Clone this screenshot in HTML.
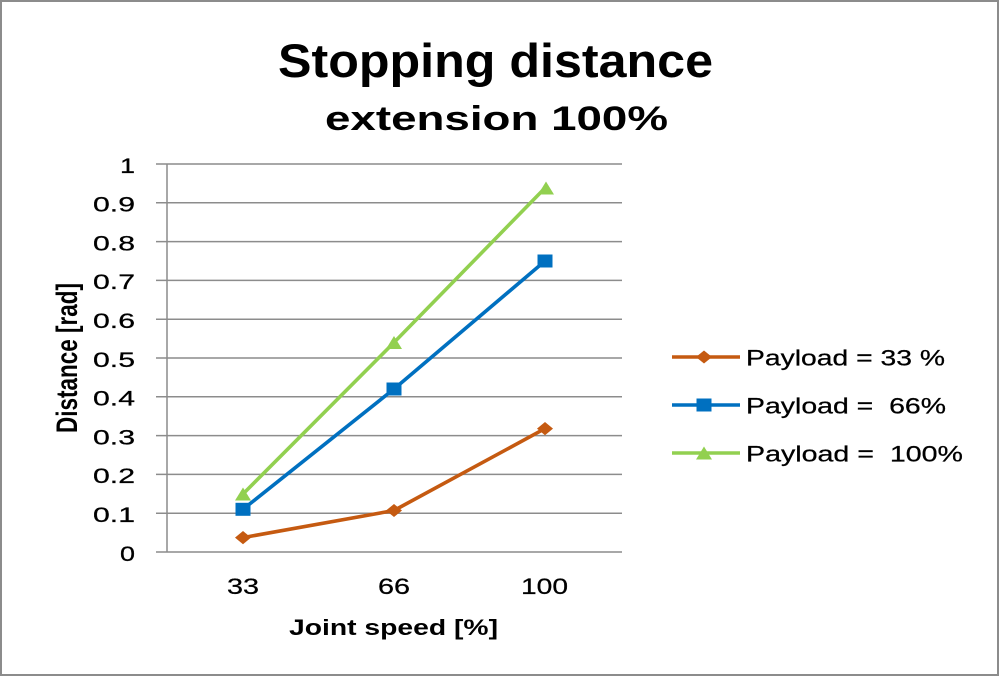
<!DOCTYPE html>
<html>
<head>
<meta charset="utf-8">
<style>
html,body{margin:0;padding:0;background:#fff;}
svg{display:block;}
text{font-family:"Liberation Sans",sans-serif;fill:#000;}
</style>
</head>
<body>
<svg width="1000" height="676" viewBox="0 0 1000 676" xmlns="http://www.w3.org/2000/svg">
<rect x="0" y="0" width="1000" height="676" fill="#fff"/>
<rect x="1" y="1" width="997" height="674" fill="none" stroke="#8c8c8c" stroke-width="2"/>

<!-- Title -->
<text x="278" y="77" font-size="47" font-weight="bold" textLength="435" lengthAdjust="spacingAndGlyphs">Stopping distance</text>
<text x="325" y="130" font-size="34" font-weight="bold" textLength="343" lengthAdjust="spacingAndGlyphs">extension 100%</text>

<!-- Gridlines -->
<g stroke="#8c8c8c" stroke-width="1.5">
<line x1="156" y1="164" x2="622" y2="164"/>
<line x1="156" y1="202.8" x2="622" y2="202.8"/>
<line x1="156" y1="241.6" x2="622" y2="241.6"/>
<line x1="156" y1="280.4" x2="622" y2="280.4"/>
<line x1="156" y1="319.2" x2="622" y2="319.2"/>
<line x1="156" y1="358" x2="622" y2="358"/>
<line x1="156" y1="396.8" x2="622" y2="396.8"/>
<line x1="156" y1="435.6" x2="622" y2="435.6"/>
<line x1="156" y1="474.4" x2="622" y2="474.4"/>
<line x1="156" y1="513.2" x2="622" y2="513.2"/>
<line x1="156" y1="552" x2="622" y2="552"/>
<line x1="167" y1="164" x2="167" y2="552"/>
</g>

<!-- Y tick labels -->
<g font-size="21" text-anchor="end" stroke="#000" stroke-width="0.25">
<text x="135" y="172.8" textLength="15" lengthAdjust="spacingAndGlyphs">1</text>
<text x="135" y="211.6" textLength="42" lengthAdjust="spacingAndGlyphs">0.9</text>
<text x="135" y="250.4" textLength="42" lengthAdjust="spacingAndGlyphs">0.8</text>
<text x="135" y="289.2" textLength="42" lengthAdjust="spacingAndGlyphs">0.7</text>
<text x="135" y="328" textLength="42" lengthAdjust="spacingAndGlyphs">0.6</text>
<text x="135" y="366.8" textLength="42" lengthAdjust="spacingAndGlyphs">0.5</text>
<text x="135" y="405.6" textLength="42" lengthAdjust="spacingAndGlyphs">0.4</text>
<text x="135" y="444.4" textLength="42" lengthAdjust="spacingAndGlyphs">0.3</text>
<text x="135" y="483.2" textLength="42" lengthAdjust="spacingAndGlyphs">0.2</text>
<text x="135" y="522" textLength="42" lengthAdjust="spacingAndGlyphs">0.1</text>
<text x="135" y="560.8" textLength="15" lengthAdjust="spacingAndGlyphs">0</text>
</g>

<!-- X tick labels -->
<g font-size="22" stroke="#000" stroke-width="0.25">
<text x="227" y="594" textLength="32" lengthAdjust="spacingAndGlyphs">33</text>
<text x="378" y="594" textLength="32" lengthAdjust="spacingAndGlyphs">66</text>
<text x="521" y="594" textLength="47" lengthAdjust="spacingAndGlyphs">100</text>
</g>

<!-- Axis titles -->
<text x="289" y="635" font-size="22" font-weight="bold" textLength="209" lengthAdjust="spacingAndGlyphs">Joint speed [%]</text>
<text transform="translate(77,433) scale(1.35,1) rotate(-90)" x="0" y="0" font-size="22" font-weight="bold" textLength="150" lengthAdjust="spacingAndGlyphs">Distance [rad]</text>

<!-- Series: orange -->
<polyline points="243,537.6 394,510.5 545,428.6" fill="none" stroke="#C55A11" stroke-width="3.6" stroke-linejoin="round"/>
<g fill="#C55A11">
<polygon points="243,531 251,537.6 243,544.2 235,537.6"/>
<polygon points="394,504 402,510.5 394,517 386,510.5"/>
<polygon points="545,422 553,428.6 545,435.2 537,428.6"/>
</g>

<!-- Series: blue -->
<polyline points="243,509.3 394,389 545,261" fill="none" stroke="#0070C0" stroke-width="3.6" stroke-linejoin="round"/>
<g fill="#0070C0">
<rect x="235.5" y="502.8" width="15" height="13"/>
<rect x="386.5" y="382.5" width="15" height="13"/>
<rect x="537.5" y="254.5" width="15" height="13"/>
</g>

<!-- Series: green -->
<polyline points="243,494 394,342.5 545,188" fill="none" stroke="#92D050" stroke-width="3.6" stroke-linejoin="round"/>
<g fill="#92D050">
<polygon points="243,487.5 251,500.5 235,500.5"/>
<polygon points="394,336 402,349 386,349"/>
<polygon points="546,181.5 554,194.5 538,194.5"/>
</g>

<!-- Legend -->
<line x1="672" y1="357" x2="740" y2="357" stroke="#C55A11" stroke-width="3.6"/>
<polygon points="704,350.5 712,357 704,363.5 696,357" fill="#C55A11"/>
<line x1="672" y1="405" x2="740" y2="405" stroke="#0070C0" stroke-width="3.6"/>
<rect x="696.5" y="398.5" width="15" height="13" fill="#0070C0"/>
<line x1="672" y1="453" x2="740" y2="453" stroke="#92D050" stroke-width="3.6"/>
<polygon points="704,446.5 712,459.5 696,459.5" fill="#92D050"/>

<g font-size="22" style="white-space:pre" stroke="#000" stroke-width="0.25">
<text x="746" y="365.5" textLength="199" lengthAdjust="spacingAndGlyphs" xml:space="preserve">Payload = 33 %</text>
<text x="746" y="413.5" textLength="200" lengthAdjust="spacingAndGlyphs" xml:space="preserve">Payload =  66%</text>
<text x="746" y="461.5" textLength="217" lengthAdjust="spacingAndGlyphs" xml:space="preserve">Payload =  100%</text>
</g>
</svg>
</body>
</html>
